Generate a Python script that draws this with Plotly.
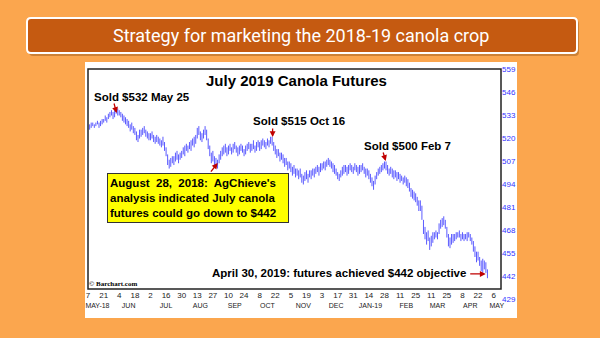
import numpy as np
import pandas as pd
import plotly.graph_objects as go

# ---------------- data ----------------
axis_origin = "2018-05-07"        # first Monday shown on the axis
first_bar_date = "2018-05-08"     # first daily bar

# daily low / high of July 2019 canola futures ($/t), one value per trading day
lo = [525, 526, 527, 526,
      527, 528, 526, 527, 528,
      529, 530, 529, 531, 532,
      533, 531, 532, 534, 533,
      533, 532, 530, 529, 528,
      527, 526, 524, 525, 523,
      522, 519, 518, 520, 521,
      522, 523, 521, 520, 519,
      519, 520, 518, 517, 518,
      517, 516, 515, 516, 513,
      510, 505, 503, 504, 506,
      505, 507, 508, 506, 508,
      509, 511, 510, 513, 512,
      514, 513, 516, 515, 517,
      520, 522, 519, 518, 520,
      522, 519, 514, 510, 506,
      507, 505, 504, 503, 506,
      508, 510, 511, 512, 510,
      511, 513, 511, 512, 514,
      512, 510, 511, 513, 512,
      510, 511, 513, 514, 512,
      513, 514, 512, 513, 515,
      513, 514, 516, 515, 514,
      516, 515, 517, 516, 513,
      511, 509, 510, 507, 508,
      506, 504, 505, 502, 503,
      501, 499, 500, 498, 499,
      497, 498, 495, 494, 496,
      497, 495, 498, 497, 499,
      498, 500, 501, 499, 501,
      502, 503, 502, 504, 505,
      504, 503, 501, 500, 499,
      497, 496, 498, 499, 500,
      501, 499, 500, 502, 501,
      500, 502, 501, 499, 500,
      501, 502, 500, 498, 499,
      497, 495, 493, 491, 494,
      497, 499, 500, 501, 502,
      503, 502, 500, 499, 500,
      498, 497, 498, 496, 497,
      495, 496, 494, 495, 493,
      492, 490, 487, 486, 485,
      484, 482, 479, 479, 474,
      466, 463, 460, 462, 457,
      459, 461, 463, 464, 463,
      466, 469, 470, 471, 469,
      464, 459, 458, 460, 461,
      462, 463, 464, 464, 462,
      463, 462, 463, 462, 464,
      462, 460, 456, 453, 450,
      451, 448, 445, 444, 446,
      444, 441]
hi = [528, 529, 529, 528,
      529, 530, 529, 530, 531,
      531, 533, 532, 534, 535,
      536, 535, 536, 537, 537,
      536, 535, 534, 533, 532,
      531, 530, 528, 529, 527,
      526, 524, 522, 525, 525,
      526, 527, 525, 524, 523,
      523, 524, 522, 521, 522,
      521, 520, 519, 521, 518,
      515, 511, 508, 509, 510,
      510, 512, 513, 511, 512,
      513, 515, 516, 517, 516,
      518, 519, 520, 521, 522,
      526, 527, 524, 523, 525,
      527, 525, 520, 516, 512,
      513, 510, 509, 508, 511,
      513, 515, 516, 517, 515,
      516, 517, 515, 517, 518,
      516, 515, 516, 517, 516,
      514, 516, 517, 518, 517,
      517, 519, 516, 518, 519,
      518, 519, 520, 519, 518,
      520, 519, 521, 521, 518,
      516, 514, 514, 512, 512,
      511, 509, 509, 507, 507,
      506, 504, 505, 503, 503,
      502, 503, 500, 499, 501,
      502, 500, 502, 502, 503,
      503, 504, 505, 504, 506,
      506, 507, 507, 508, 509,
      508, 507, 506, 505, 503,
      501, 500, 502, 504, 505,
      505, 504, 505, 506, 505,
      504, 506, 505, 504, 505,
      505, 506, 504, 503, 503,
      502, 500, 498, 496, 499,
      501, 503, 504, 505, 506,
      507, 507, 505, 503, 504,
      503, 502, 502, 501, 501,
      500, 499, 498, 499, 498,
      497, 495, 492, 491, 490,
      489, 487, 485, 485, 482,
      474, 470, 467, 468, 464,
      465, 467, 467, 468, 467,
      472, 474, 475, 476, 474,
      470, 466, 464, 466, 466,
      466, 467, 467, 468, 466,
      467, 466, 466, 467, 467,
      466, 464, 462, 459, 456,
      456, 453, 451, 452, 451,
      450, 446]

tick_dates = ["2018-05-07", "2018-05-21", "2018-06-04", "2018-06-18", "2018-07-02",
              "2018-07-16", "2018-07-30", "2018-08-13", "2018-08-27", "2018-09-10",
              "2018-09-24", "2018-10-08", "2018-10-22", "2018-11-05", "2018-11-19",
              "2018-12-03", "2018-12-17", "2018-12-31", "2019-01-14", "2019-01-28",
              "2019-02-11", "2019-02-25", "2019-03-11", "2019-03-25", "2019-04-08",
              "2019-04-22", "2019-05-06"]
tick_labels = ["7", "21", "4", "18", "2", "16", "30", "13", "27", "10", "24", "8", "22",
               "5", "19", "3", "17", "31", "14", "28", "11", "25", "11", "25", "8", "22", "6"]

month_dates = ["2018-05-15", "2018-06-12", "2018-07-16", "2018-08-15", "2018-09-14",
               "2018-10-15", "2018-11-15", "2018-12-14", "2019-01-15", "2019-02-15",
               "2019-03-15", "2019-04-15", "2019-05-08"]
month_labels = ["MAY-18", "JUN", "JUL", "AUG", "SEP", "OCT", "NOV", "DEC", "JAN-19",
                "FEB", "MAR", "APR", "MAY"]

price_ticks = [429, 442, 455, 468, 481, 494, 507, 520, 533, 546, 559]

# ---------------- layout helpers ----------------
ORANGE = "#FBA64E"
BAR_FILL = "#C55A11"
BLUE = "#4848ff"
RED = "#C00000"
FONT = "Liberation Sans"

L, R, T, B = 88, 501, 69, 318          # plot area in page pixels


def px(x, y):
    return (x - L) / (R - L), (B - y) / (B - T)


def bday(dates):
    d = np.array(pd.to_datetime(dates).values.astype("datetime64[D]"))
    return np.busday_count(np.datetime64(axis_origin), d)


dates = pd.bdate_range(first_bar_date, periods=len(hi))
xd = bday(dates)

xs, ys = [], []
for x, l, h in zip(xd, lo, hi):
    xs += [x, x, None]
    ys += [l, h, None]

x_range = [-0.05, 264.7]
y_range = [418.5, 559.3]

fig = go.Figure()
fig.add_trace(go.Scatter(x=xs, y=ys, mode="lines", line=dict(color=BLUE, width=0.9),
                         showlegend=False, hoverinfo="skip"))
fig.add_trace(go.Scatter(x=[bday(month_dates)[0]], y=[None], xaxis="x2", yaxis="y",
                         showlegend=False, hoverinfo="skip"))

shapes = []
# white chart panel
a0 = px(85, 318); a1 = px(517, 62)
shapes.append(dict(type="rect", xref="paper", yref="paper", x0=a0[0], y0=a0[1], x1=a1[0], y1=a1[1],
                   fillcolor="white", line=dict(width=0), layer="below"))
# frame
f0 = px(88, 289); f1 = px(501, 69)
shapes.append(dict(type="rect", xref="paper", yref="paper", x0=f0[0], y0=f0[1], x1=f1[0], y1=f1[1],
                   line=dict(color="#222222", width=1.5), layer="above"))


def rounded(x0, y0, x1, y1, r):
    rx = r / (R - L); ry = r / (B - T)
    p0 = px(x0, y1); p1 = px(x1, y0)
    X0, Y0, X1, Y1 = p0[0], p0[1], p1[0], p1[1]
    return (f"M {X0+rx},{Y0} L {X1-rx},{Y0} Q {X1},{Y0} {X1},{Y0+ry} L {X1},{Y1-ry} "
            f"Q {X1},{Y1} {X1-rx},{Y1} L {X0+rx},{Y1} Q {X0},{Y1} {X0},{Y1-ry} "
            f"L {X0},{Y0+ry} Q {X0},{Y0} {X0+rx},{Y0} Z")


shapes.append(dict(type="path", xref="paper", yref="paper", path=rounded(29, 20, 579, 56, 4),
                   fillcolor="rgba(120,60,10,0.35)", line=dict(width=0)))
shapes.append(dict(type="path", xref="paper", yref="paper", path=rounded(27, 18, 577, 53, 4),
                   fillcolor=BAR_FILL, line=dict(color="white", width=2)))

ann = []


def text(x, y, s, size=11.5, color="black", family=FONT, **kw):
    p = px(x, y)
    d = dict(x=p[0], y=p[1], xref="paper", yref="paper", text=s, showarrow=False,
             font=dict(size=size, color=color, family=family), xanchor="center", yanchor="middle")
    d.update(kw)
    ann.append(d)


def arrow(xv, yv, ax, ay):
    ann.append(dict(x=xv, y=yv, xref="x", yref="y", text="", showarrow=True, ax=ax, ay=ay,
                    arrowcolor=RED, arrowhead=2, arrowsize=0.9, arrowwidth=1.3))


text(301, 36, "Strategy for marketing the 2018-19 canola crop", size=18, color="white", family="Roboto")
text(296, 80, "<b>July 2019 Canola Futures</b>", size=15)
text(142, 97, "<b>Sold $532 May 25</b>")
text(299, 121, "<b>Sold $515 Oct 16</b>")
text(407, 146, "<b>Sold $500 Feb 7</b>")
text(339, 273, "<b>April 30, 2019: futures achieved $442 objective</b>")
text(113, 284, "<b>© Barchart.com</b>", size=7, family="Liberation Serif")
text(197.5, 197.5, "<b>August&nbsp; 28,&nbsp; 2018:&nbsp; AgChieve's</b><br><b>analysis indicated July canola</b>"
     "<br><b>futures could go down to $442</b>", size=11.5, align="left",
     bgcolor="#FFFF00", bordercolor="#333333", borderwidth=1, borderpad=2, width=176, height=44)

arrow(18.3, 534.4, -3, -11)
arrow(118.3, 520.8, 0, -10)
arrow(190.8, 507.3, -3, -10)
arrow(83.1, 506.1, -8, 10)
arrow(254.9, 443.4, -17, 0)

fig.update_layout(
    width=600, height=338,
    margin=dict(l=L, r=600 - R, t=T, b=338 - B, pad=0),
    paper_bgcolor=ORANGE, plot_bgcolor="white",
    shapes=shapes, annotations=ann, showlegend=False,
    xaxis=dict(range=x_range, tickmode="array", tickvals=bday(tick_dates), ticktext=tick_labels,
               anchor="free", position=px(0, 289)[1], showgrid=False, zeroline=False,
               showline=False, ticks="", tickfont=dict(size=8, color="#222222", family=FONT)),
    xaxis2=dict(range=x_range, overlaying="x", tickmode="array", tickvals=bday(month_dates),
                ticktext=month_labels, anchor="free", position=px(0, 300)[1], side="bottom",
                showgrid=False, zeroline=False, showline=False, ticks="",
                tickfont=dict(size=7, color="#222222", family=FONT)),
    yaxis=dict(range=y_range, side="right", tickmode="array", tickvals=price_ticks,
               showgrid=False, zeroline=False, showline=False, ticks="",
               tickfont=dict(size=8, color="#3333ff", family=FONT)),
)

fig.write_html("out.html")
